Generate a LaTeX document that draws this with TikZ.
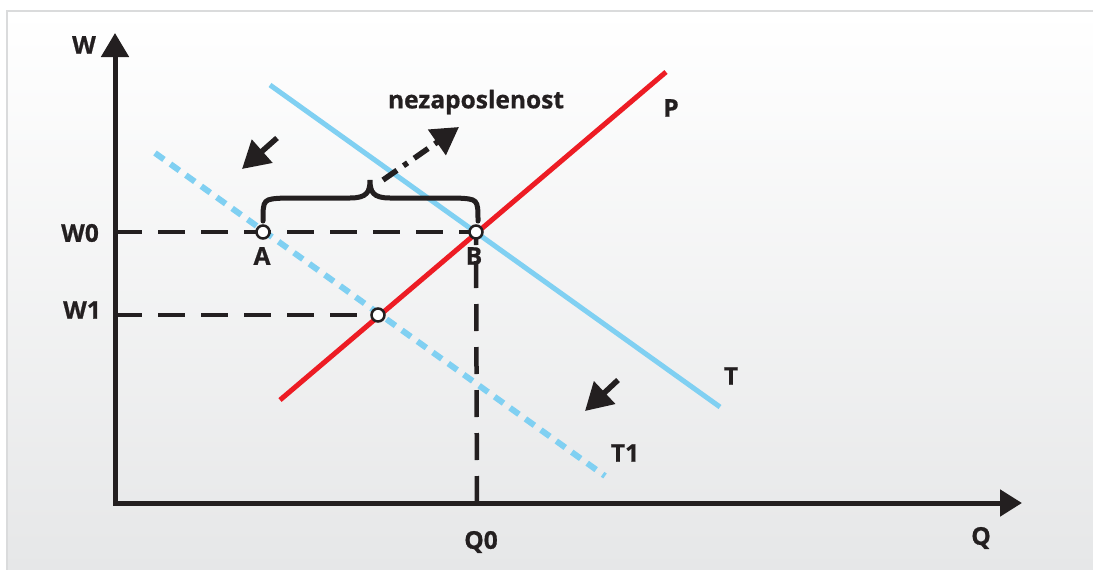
\documentclass[tikz,border=0pt]{standalone}
\usepackage{fontspec}
\setmainfont{Open Sans}[BoldFeatures={FakeBold=0.7}]
\usetikzlibrary{arrows.meta}
\definecolor{ink}{RGB}{35,31,32}
\definecolor{pred}{RGB}{237,28,36}
\definecolor{tblue}{RGB}{128,208,242}
\definecolor{bgbot}{RGB}{230,231,232}
\definecolor{framec}{RGB}{218,219,220}
\begin{document}
\begin{tikzpicture}[x=1pt,y=-1pt,
  lbl/.style={text=ink,font=\fontsize{24.5}{24.5}\selectfont\bfseries,inner sep=0pt},
  axisline/.style={ink,line width=5pt,line join=miter},
  guide/.style={ink,line width=4.5pt,dash pattern=on 27pt off 16pt},
  dot/.style={circle,draw=ink,fill=white,line width=2.5pt,minimum size=13pt,inner sep=0pt},
  shiftarrow/.style={ink,line width=5.5pt,-{Triangle[length=27pt,width=30pt]}},
  curveP/.style={pred,line width=5pt},
  curveT/.style={tblue,line width=5pt},
  curveTa/.style={tblue,line width=6pt,dash pattern=on 11pt off 8pt},
]
\useasboundingbox (0,0) rectangle (1093,570);
% panel
\shade[top color=white,bottom color=bgbot] (7,11) rectangle (1093,570);
\draw[framec,line width=2pt] (7,570) -- (7,11) -- (1093,11);

% key positions
\coordinate (O) at (115,503);
\coordinate (Ytip) at (115,33);
\coordinate (Xtip) at (1022,503);
\coordinate (W0) at (115,232);
\coordinate (W1) at (115,315);
\coordinate (Q0) at (477,503);
\coordinate (pA) at (263,232);
\coordinate (pB) at (476,232);
\coordinate (pE) at (378,315);

% curves
\coordinate (P1) at (280,400); \coordinate (P2) at (666,72);
\coordinate (T1s) at (270,85); \coordinate (T1e) at (720,407);
\coordinate (T2s) at (155,153); \coordinate (T2e) at (605,476);
\draw[curveTa] (T2s) -- (T2e);
\draw[curveT] (T1s) -- (T1e);
\draw[curveP] (P1) -- (P2);

% guides
\draw[guide] (W0) -- (pB);
\draw[guide] (W1) -- (pE);
\draw[guide] (Q0) -- (pB);

% axes
\draw[axisline,{Triangle[length=24pt,width=27pt]}-{Triangle[length=22pt,width=26pt]}] (Ytip) -- (O) -- (Xtip);

% brace
\draw[ink,line width=5pt,line cap=round] (263,221) .. controls (263,199) .. (285,198) -- (350,198) .. controls (367,198) and (370,192) .. (370,180) .. controls (370,192) and (373,198) .. (390,198) -- (456,198) .. controls (478,199) .. (478,221);

% arrows
\coordinate (Us) at (383,180); \coordinate (Ue) at (459,127);
\draw[ink,line width=5.5pt,dash pattern=on 17pt off 8pt on 5pt off 8pt,-{Triangle[length=27pt,width=30pt]}] (Us) -- (Ue);
\coordinate (S1s) at (277,138); \coordinate (S1e) at (242,169);
\draw[shiftarrow] (S1s) -- (S1e);
\coordinate (S2s) at (618,380); \coordinate (S2e) at (585,411);
\draw[shiftarrow] (S2s) -- (S2e);

% points
\node[dot] (A) at (pA) {};
\node[dot] (B) at (pB) {};
\node[dot] (E) at (pE) {};

% labels
\node[lbl] (lW) at (84,45) {W};
\node[lbl] (lW0) at (80,233) {W0};
\node[lbl] (lW1) at (82,310) {W1};
\node[lbl] (lQ0) at (481,542) {Q0};
\node[lbl] (lQ) at (981,538) {Q};
\node[lbl] (lA) at (262,256) {A};
\node[lbl] (lB) at (474,256) {B};
\node[lbl] (lP) at (671,108) {P};
\node[lbl] (lT) at (731,376) {T};
\node[lbl] (lT1) at (625,453) {T1};
\node[lbl] (lU) at (476,102) {nezaposlenost};
\end{tikzpicture}
\end{document}
